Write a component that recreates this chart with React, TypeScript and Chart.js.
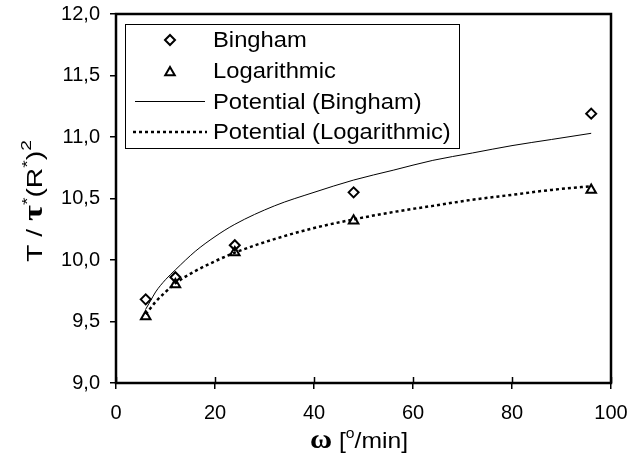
import React, { useEffect, useRef } from "react";
import { Chart, registerables } from "chart.js";

Chart.register(...registerables);

const omega = [6, 12, 24, 48, 96];
const bingham = [9.68, 9.86, 10.12, 10.55, 11.19];
const logarithmic = [9.54, 9.8, 10.06, 10.32, 10.57];

const trendOmega = [6, 7, 8, 10, 12, 16, 20, 24, 32, 40, 48, 56, 64, 72, 80, 88, 96];
const binghamTrend = [9.6, 9.67, 9.74, 9.84, 9.92, 10.07, 10.19, 10.29, 10.44, 10.55, 10.65, 10.73, 10.81, 10.87, 10.93, 10.98, 11.03];
const logTrend = [9.56, 9.61, 9.66, 9.74, 9.81, 9.91, 9.99, 10.06, 10.17, 10.26, 10.33, 10.39, 10.44, 10.49, 10.53, 10.57, 10.6];

const legendLabels = ["Bingham", "Logarithmic", "Potential (Bingham)", "Potential (Logarithmic)"];
const yTicks = { min: 9, max: 12, step: 0.5 };
const xTicks = { min: 0, max: 100, step: 20 };

const SANS = "'Liberation Sans', Arial, sans-serif";
const SERIF = "'Liberation Serif', 'Times New Roman', serif";

type Piece = { t: string; f: string; dy?: number };

function drawPieces(ctx: CanvasRenderingContext2D, pieces: Piece[], target: number) {
  let w = 0;
  for (const p of pieces) {
    ctx.font = p.f;
    w += ctx.measureText(p.t).width;
  }
  let s = target / w;
  if (s > 1.35) s = 1.35;
  if (s < 0.8) s = 0.8;
  ctx.scale(s, 1);
  let x = -w / 2;
  for (const p of pieces) {
    ctx.font = p.f;
    ctx.fillText(p.t, x, p.dy || 0);
    x += ctx.measureText(p.t).width;
  }
}

function diamond(ctx: CanvasRenderingContext2D, x: number, y: number, r: number) {
  ctx.beginPath();
  ctx.moveTo(x - r, y);
  ctx.lineTo(x, y - r);
  ctx.lineTo(x + r, y);
  ctx.lineTo(x, y + r);
  ctx.closePath();
  ctx.stroke();
}
function triangle(ctx: CanvasRenderingContext2D, x: number, y: number, r: number) {
  ctx.beginPath();
  ctx.moveTo(x, y - r);
  ctx.lineTo(x + r * Math.sin((2 * Math.PI) / 3), y - r * Math.cos((2 * Math.PI) / 3));
  ctx.lineTo(x + r * Math.sin((4 * Math.PI) / 3), y - r * Math.cos((4 * Math.PI) / 3));
  ctx.closePath();
  ctx.stroke();
}

const noPad = (s: any) => {
  s.paddingTop = 0;
  s.paddingBottom = 0;
  s.paddingLeft = 0;
  s.paddingRight = 0;
};

const decorPlugin = {
  id: "decor",
  afterDraw(chart: any) {
    const ctx: CanvasRenderingContext2D = chart.ctx;
    const a = chart.chartArea;
    const xs = chart.scales.x;
    ctx.save();
    ctx.setLineDash([]);
    // frame
    ctx.strokeStyle = "#000";
    ctx.lineWidth = 2.5;
    ctx.strokeRect(a.left, a.top, a.right - a.left, a.bottom - a.top);
    // inner part of x ticks
    ctx.lineWidth = 1.5;
    for (let v = xTicks.min; v <= xTicks.max; v += xTicks.step) {
      const px = Math.round(xs.getPixelForValue(v)) + 0.5;
      ctx.beginPath();
      ctx.moveTo(px, a.bottom);
      ctx.lineTo(px, a.bottom - 6);
      ctx.stroke();
    }
    // legend box
    ctx.fillStyle = "#fff";
    ctx.fillRect(125, 24, 334, 124);
    ctx.strokeStyle = "#000";
    ctx.lineWidth = 1;
    ctx.strokeRect(125.5, 24.5, 334, 124);
    const rows = [40, 71, 101.5, 132];
    ctx.lineWidth = 2;
    diamond(ctx, 170, rows[0], 5);
    triangle(ctx, 170, rows[1] + 1.5, 5.5);
    ctx.lineWidth = 1;
    ctx.beginPath();
    ctx.moveTo(135, rows[2]);
    ctx.lineTo(205, rows[2]);
    ctx.stroke();
    ctx.lineWidth = 2.5;
    ctx.setLineDash([3, 3]);
    ctx.beginPath();
    ctx.moveTo(133, rows[3]);
    ctx.lineTo(207, rows[3]);
    ctx.stroke();
    ctx.setLineDash([]);
    ctx.fillStyle = "#000";
    ctx.textBaseline = "middle";
    ctx.textAlign = "left";
    ctx.font = `22px ${SANS}`;
    legendLabels.forEach((l, i) => {
      ctx.save();
      ctx.translate(213, rows[i] + 1);
      ctx.scale(1.08, 1);
      ctx.fillText(l, 0, 0);
      ctx.restore();
    });
    // y title
    ctx.textBaseline = "alphabetic";
    ctx.save();
    ctx.translate(42, 201);
    ctx.rotate(-Math.PI / 2);
    drawPieces(
      ctx,
      [
        { t: "T / ", f: `22px ${SANS}` },
        { t: "τ", f: `bold 27px ${SERIF}` },
        { t: "*", f: `15px ${SANS}`, dy: -10 },
        { t: "(R", f: `22px ${SANS}` },
        { t: "*", f: `15px ${SANS}`, dy: -10 },
        { t: ")", f: `22px ${SANS}` },
        { t: "2", f: `15px ${SANS}`, dy: -11 },
      ],
      122
    );
    ctx.restore();
    // x title
    ctx.save();
    ctx.translate(359, 448);
    drawPieces(
      ctx,
      [
        { t: "ω", f: `bold 27px ${SERIF}` },
        { t: " [", f: `22px ${SANS}` },
        { t: "o", f: `14px ${SANS}`, dy: -10 },
        { t: "/min]", f: `22px ${SANS}` },
      ],
      98
    );
    ctx.restore();
    ctx.restore();
  },
};

export default function App() {
  const ref = useRef<HTMLCanvasElement>(null);
  useEffect(() => {
    if (!ref.current) return;
    const chart = new Chart(ref.current, {
      type: "scatter",
      data: {
        datasets: [
          {
            label: "Potential (Bingham)",
            data: trendOmega.map((x, i) => ({ x, y: binghamTrend[i] })),
            showLine: true,
            borderColor: "#000",
            borderWidth: 1,
            pointRadius: 0,
            cubicInterpolationMode: "monotone",
          },
          {
            label: "Potential (Logarithmic)",
            data: trendOmega.map((x, i) => ({ x, y: logTrend[i] })),
            showLine: true,
            borderColor: "#000",
            borderWidth: 2.5,
            borderDash: [3, 3],
            pointRadius: 0,
            cubicInterpolationMode: "monotone",
          },
          {
            label: "Bingham",
            data: omega.map((x, i) => ({ x, y: bingham[i] })),
            pointStyle: "rectRot",
            pointRadius: 5,
            borderColor: "#000",
            borderWidth: 2,
            backgroundColor: "rgba(0,0,0,0)",
          },
          {
            label: "Logarithmic",
            data: omega.map((x, i) => ({ x, y: logarithmic[i] })),
            pointStyle: "triangle",
            pointRadius: 5.5,
            borderColor: "#000",
            borderWidth: 2,
            backgroundColor: "rgba(0,0,0,0)",
          },
        ],
      } as any,
      options: {
        responsive: false,
        animation: false,
        layout: { padding: { top: 14, right: 18, left: 0, bottom: 0 } },
        plugins: { legend: { display: false }, tooltip: { enabled: false } },
        scales: {
          x: {
            type: "linear",
            min: xTicks.min,
            max: xTicks.max,
            afterFit: (s: any) => {
              s.height = 79;
              noPad(s);
            },
            ticks: {
              stepSize: xTicks.step,
              color: "#000",
              padding: 12,
              font: { family: SANS, size: 20 },
            },
            grid: { drawOnChartArea: false, drawTicks: true, tickLength: 6, color: "#000", lineWidth: 1.5 },
            border: { display: false },
          },
          y: {
            type: "linear",
            min: yTicks.min,
            max: yTicks.max,
            afterFit: (s: any) => {
              s.width = 116;
              noPad(s);
            },
            ticks: {
              stepSize: yTicks.step,
              color: "#000",
              padding: 10,
              font: { family: SANS, size: 20 },
              callback: (v: any) => Number(v).toFixed(1).replace(".", ","),
            },
            grid: { drawOnChartArea: false, drawTicks: true, tickLength: 6, color: "#000", lineWidth: 1.5 },
            border: { display: false },
          },
        },
      } as any,
      plugins: [decorPlugin],
    });
    return () => chart.destroy();
  }, []);
  return (
    <div style={{ position: "absolute", left: 0, top: 0, width: 629, height: 462, background: "#fff" }}>
      <canvas ref={ref} width={629} height={462} style={{ display: "block" }} />
    </div>
  );
}
